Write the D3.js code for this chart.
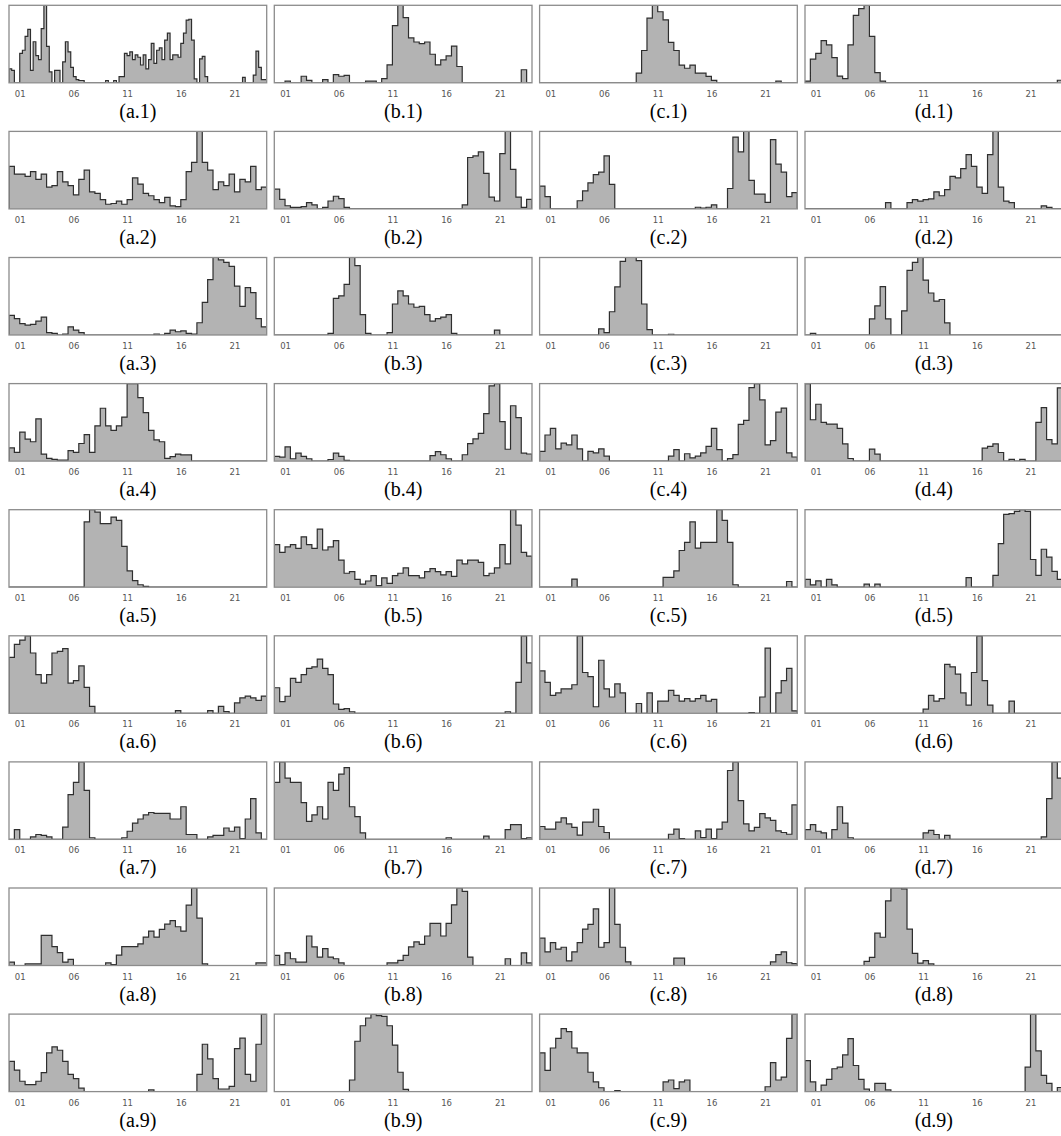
<!DOCTYPE html>
<html>
<head>
<meta charset="utf-8">
<script src="https://cdn.jsdelivr.net/npm/d3@7"></script>
<style>
  body { margin: 0; background: #fff; }
  svg { display: block; }
</style>
</head>
<body>
<div id="chart"></div>
<script>
// tick positions (hour of day) and their labels
const tickHours = [1, 6, 11, 16, 21];
const tickLabels = ["01", "06", "11", "16", "21"];
const colLetters = ["a", "b", "c", "d"];

// activity per time bin (bins spread evenly over 24 h)
const a1 = [18,16,0,0,38,42,60,69,16,53,35,30,70,100,47,14,0,16,16,0,27,53,40,20,8,4,3,3,
  0,0,0,0,0,0,0,0,3,0,0,3,0,8,8,
  38,35,40,30,36,33,23,36,18,30,51,25,42,45,30,55,64,30,36,36,33,51,64,81,82,55,5,
  0,31,34,8,0,0,0,0,0,0,0,0,0,0,0,0,0,7,0,0,0,10,41,20,4,4];
const b1 = [0,0,2,0,0,8,3,0,0,4,0,10,8,9,0,0,0,2,2,0,5,22,70,95,80,55,50,48,50,35,22,28,33,45,20,
  0,0,0,0,0,0,0,0,0,0,0,16,0];
const c1 = [0,0,0,0,0,0,0,0,0,0,0,0,0,0,0,0,0,0,12,40,80,96,88,78,50,40,22,18,22,12,12,8,3,
  0,0,0,0,0,0,0,0,0,0,0,2,0,0,0];
const d1 = [2,28,35,50,45,30,8,5,45,80,88,92,55,12,2,
  0,0,0,0,0,0,0,0,0,0,0,0,0,0,0,0,0,0,0,0,0,0,0,0,0,0,0,0,0,0,0,0,3];

const a2 = [55,45,45,42,48,38,45,28,30,48,35,30,18,38,50,22,20,12,6,7,10,6,12,40,32,20,17,12,8,15,
  4,3,12,48,60,100,60,50,25,35,30,45,22,38,35,55,25,28];
const b2 = [25,12,4,2,2,3,8,5,0,2,10,16,13,2,
  0,0,0,0,0,0,0,0,0,0,0,0,0,0,0,0,0,0,0,0,0,
  5,65,67,72,45,15,10,70,98,50,15,2,12];
const c2 = [28,15,0,0,0,0,0,10,22,32,42,45,65,30,
  0,0,0,0,0,0,0,0,0,0,0,0,0,0,0,
  2,1,2,5,0,0,25,88,70,95,35,18,18,8,85,55,45,15,20];
const d2 = [0,0,0,0,0,0,0,0,0,0,0,0,0,0,0,8,0,0,0,8,12,10,12,13,22,17,25,42,40,52,70,55,28,20,70,100,28,10,8,
  0,0,0,0,0,4,2,0,0];

const a3 = [24,20,14,12,13,17,22,3,2,0,1,10,6,3,
  0,0,0,0,0,0,0,0,0,0,0,0,0,
  1,0,2,6,4,5,2,1,15,40,68,95,92,89,84,60,35,58,52,20,10];
const b3 = [0,0,0,0,0,0,0,0,0,0,2,45,48,62,95,85,25,2,0,0,0,3,38,54,48,38,34,35,25,17,20,22,25,2,
  0,0,0,0,0,0,0,6,0,0,0,0,0,0];
const c3 = [0,0,0,0,0,0,0,0,0,0,0,8,3,30,62,95,100,100,96,40,7,0,0,0,1,
  0,0,0,0,0,0,0,0,0,0,0,0,0,0,0,0,0,0,0,0,0,0,0];
const d3v = [0,2,0,0,0,0,0,0,0,0,0,0,20,36,60,20,0,0,30,80,90,96,68,52,42,44,15,
  0,0,0,0,0,0,0,0,0,0,0,0,0,0,0,0,0,0,0,0,0];

const a4 = [15,10,33,25,22,48,8,3,2,1,1,12,10,20,30,10,40,60,40,35,40,50,88,88,72,55,35,24,22,3,5,8,7,7,
  0,0,0,0,0,0,0,0,0,0,0,0,0,0];
const b4 = [6,5,18,3,10,6,3,0,0,0,2,10,6,1,
  0,0,0,0,0,0,0,0,0,0,0,0,0,0,0,
  7,12,8,3,0,0,8,22,28,35,60,95,98,50,15,70,55,10,9];
const c4 = [12,32,40,15,22,20,32,15,0,12,10,15,6,0,
  0,0,0,0,0,0,0,0,0,0,
  6,14,0,9,4,6,10,18,40,14,0,3,8,45,50,90,95,75,20,25,60,65,10,5];
const d4 = [90,48,66,45,43,43,38,20,3,0,0,0,14,8,
  0,0,0,0,0,0,0,0,0,0,0,0,0,0,0,0,0,0,0,
  15,17,20,10,0,2,0,2,0,0,45,62,25,20,85];

const a5 = [0,0,0,0,0,0,0,0,0,0,0,0,0,0,80,95,92,78,78,86,82,50,20,8,3,1,
  0,0,0,0,0,0,0,0,0,0,0,0,0,0,0,0,0,0,0,0,0,0];
const b5 = [55,45,52,55,50,65,55,50,75,48,52,60,35,18,20,10,4,8,15,2,12,5,15,18,25,15,15,12,20,24,
  20,16,20,14,35,30,35,35,32,15,18,25,55,30,100,80,45,40];
const c5 = [0,0,0,0,0,0,10,0,0,0,0,0,0,0,0,0,0,0,0,0,0,0,0,
  12,12,20,45,55,80,48,55,55,55,95,82,55,3,
  0,0,0,0,0,0,0,0,0,7,0];
const d5 = [10,3,8,0,10,3,0,0,0,0,0,4,0,4,
  0,0,0,0,0,0,0,0,0,0,0,0,0,0,0,0,
  12,0,0,0,0,15,55,92,93,96,98,96,35,15,48,38,20,10];

const a6 = [65,80,85,90,70,45,35,45,70,72,75,35,38,55,30,8,
  0,0,0,0,0,0,0,0,0,0,0,0,0,0,0,
  3,0,0,0,0,0,3,0,8,2,0,12,18,20,18,15,20];
const b6 = [33,15,22,45,40,50,58,60,70,58,50,12,5,6,2,
  0,0,0,0,0,0,0,0,0,0,0,0,0,0,0,0,0,0,0,0,0,0,0,0,0,0,0,0,
  2,0,40,100,65];
const c6 = [52,38,22,25,30,30,35,95,50,45,8,65,30,20,36,25,0,0,12,0,25,0,15,15,28,22,15,18,15,18,22,15,17,0,
  0,0,0,0,0,1,0,20,80,0,25,40,55,3];
const d6 = [0,0,0,0,0,0,0,0,0,0,0,0,0,0,0,0,0,0,0,0,0,0,
  5,22,15,18,60,57,48,25,10,50,95,40,10,0,0,0,15,
  0,0,0,0,0,0,0,0,0];

const a7 = [0,12,0,0,3,6,5,3,0,0,15,55,70,95,60,2,
  0,0,0,0,0,
  2,10,20,25,30,33,32,32,32,25,25,40,6,6,0,0,3,5,5,14,10,15,1,25,50,8,0];
const b7 = [70,95,75,70,70,45,22,30,40,25,70,60,80,88,40,28,8,
  0,0,0,0,0,0,0,0,0,0,0,0,0,0,0,
  2,0,0,0,0,0,0,4,0,0,0,12,18,18,1,2];
const c7 = [15,12,12,20,25,18,14,5,20,20,35,15,8,
  0,0,0,0,0,0,0,0,0,0,0,
  6,12,1,0,0,10,2,12,1,12,20,80,90,45,18,10,14,30,25,22,10,8,6,40];
const d7 = [12,18,10,8,0,12,40,20,2,
  0,0,0,0,0,0,0,0,0,0,0,0,0,
  8,11,6,0,5,
  0,0,0,0,0,0,0,0,0,0,0,0,0,0,0,0,0,
  3,50,95,75];

const a8 = [4,0,0,2,2,2,35,35,22,15,4,7,
  0,0,0,0,0,0,
  3,1,12,22,22,22,25,33,40,33,42,48,52,45,40,70,90,55,2,
  0,0,0,0,0,0,0,0,0,3,3];
const b8 = [12,1,15,8,4,4,35,22,10,20,10,8,3,
  0,0,0,0,0,0,0,0,
  3,3,6,12,22,28,25,35,50,50,35,50,72,92,88,10,
  0,0,0,0,0,0,8,0,0,15,3];
const c8 = [30,15,25,18,20,5,15,25,40,45,62,20,25,85,45,20,4,
  0,0,0,0,0,0,0,0,8,8,
  0,0,0,0,0,0,0,0,0,0,0,0,0,0,0,0,
  4,12,15,3,2];
const d8 = [0,0,0,0,0,0,0,0,0,0,0,5,10,40,35,80,96,96,95,45,15,3,6,2,
  0,0,0,0,0,0,0,0,0,0,0,0,0,0,0,0,0,0,0,0,0,0,0,0];

const a9 = [35,25,12,8,8,12,22,45,52,48,35,20,15,4,
  0,0,0,0,0,0,0,0,0,0,0,0,2,0,0,0,0,0,0,0,0,
  20,55,38,15,3,3,6,50,62,20,12,55,90];
const b9 = [0,0,0,0,0,0,0,0,0,0,0,0,0,0,15,65,85,95,100,98,97,85,60,25,3,
  0,0,0,0,0,0,0,0,0,0,0,0,0,0,0,0,0,0,0,0,0,0,0];
const c9 = [40,22,45,55,65,62,45,40,40,20,10,4,0,0,1,
  0,0,0,0,0,0,0,0,
  10,12,3,10,12,
  0,0,0,0,0,0,0,0,0,0,0,0,0,0,
  5,30,12,15,55,80];
const d9 = [38,12,0,8,15,28,30,45,65,32,15,3,0,10,10,2,
  0,0,0,0,0,0,0,0,0,0,0,0,0,0,0,0,0,0,0,0,0,0,0,0,0,
  30,95,50,20,10,0,5];

const grid = [
  [a1, b1, c1, d1],
  [a2, b2, c2, d2],
  [a3, b3, c3, d3v],
  [a4, b4, c4, d4],
  [a5, b5, c5, d5],
  [a6, b6, c6, d6],
  [a7, b7, c7, d7],
  [a8, b8, c8, d8],
  [a9, b9, c9, d9]
];

const width = 1061, height = 1136;
const panelW = 257.7, panelH = 77.5;
const colX = [9, 274.3, 539.6, 805];
const rowTop = 5.3, rowStep = 126.1;

const svg = d3.select("#chart").append("svg")
  .attr("width", width)
  .attr("height", height);

grid.forEach((row, r) => {
  row.forEach((vals, c) => {
    const x0 = colX[c];
    const y0 = rowTop + r * rowStep;

    const x = d3.scaleLinear().domain([0, 24]).range([x0, x0 + panelW]);
    const y = d3.scaleLinear().domain([0, d3.max(vals)]).range([y0 + panelH, y0]);

    // step points, closed down to the baseline at both ends
    const bw = 24 / vals.length;
    const pts = [[0, 0]]
      .concat(vals.map((v, i) => [i * bw, v]))
      .concat([[24, vals[vals.length - 1]], [24, 0]]);

    const clipId = `clip-${r}-${c}`;
    svg.append("clipPath").attr("id", clipId)
      .append("rect")
      .attr("x", x0).attr("y", y0)
      .attr("width", panelW).attr("height", panelH);

    const g = svg.append("g").attr("clip-path", `url(#${clipId})`);

    const area = d3.area()
      .x(d => x(d[0]))
      .y0(y(0))
      .y1(d => y(d[1]))
      .curve(d3.curveStepAfter);

    const line = d3.line()
      .x(d => x(d[0]))
      .y(d => y(d[1]))
      .curve(d3.curveStepAfter);

    g.append("path")
      .attr("d", area(pts))
      .attr("fill", "#b3b3b3");

    g.append("path")
      .attr("d", line(pts))
      .attr("fill", "none")
      .attr("stroke", "#2e2e2e")
      .attr("stroke-width", 1.2);

    // frame
    svg.append("rect")
      .attr("x", x0).attr("y", y0)
      .attr("width", panelW).attr("height", panelH)
      .attr("fill", "none")
      .attr("stroke", "#8c8c8c")
      .attr("stroke-width", 1.3);

    // hour ticks
    const axis = svg.append("g")
      .attr("transform", `translate(0,${y0 + panelH})`)
      .call(d3.axisBottom(x)
        .tickValues(tickHours)
        .tickFormat((d, i) => tickLabels[i])
        .tickSize(0)
        .tickPadding(8));
    axis.select(".domain").remove();
    axis.selectAll("text")
      .attr("fill", "#555")
      .style("font-family", "'DejaVu Sans', sans-serif")
      .style("font-size", "8.5px");

    // sub-figure label
    svg.append("text")
      .attr("x", x0 + panelW / 2)
      .attr("y", y0 + panelH + 35)
      .attr("text-anchor", "middle")
      .style("font-family", "'Liberation Serif', 'Times New Roman', serif")
      .style("font-size", "20px")
      .attr("fill", "#000")
      .text(`(${colLetters[c]}.${r + 1})`);
  });
});
</script>
</body>
</html>
